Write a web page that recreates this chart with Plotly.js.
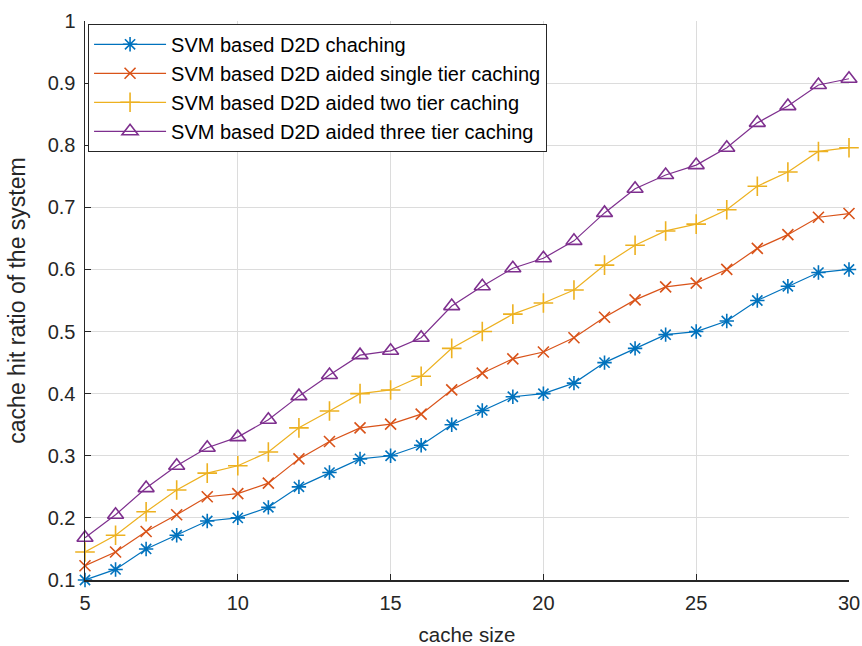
<!DOCTYPE html>
<html>
<head>
<meta charset="utf-8">
<script src="https://cdn.plot.ly/plotly-3.0.1.min.js"></script>
<style>html,body{margin:0;padding:0;background:#fff}#chart{width:862px;height:646px}</style>
</head>
<body>
<div id="chart"></div>
<script>
const cacheSize = [5,6,7,8,9,10,11,12,13,14,15,16,17,18,19,20,21,22,23,24,25,26,27,28,29,30];
const d2dCaching = [0.100,0.117,0.150,0.172,0.195,0.200,0.217,0.250,0.273,0.295,0.300,0.317,0.350,0.373,0.395,0.400,0.417,0.450,0.473,0.495,0.500,0.517,0.550,0.573,0.595,0.600];
const singleTier = [0.123,0.145,0.178,0.205,0.234,0.239,0.256,0.295,0.323,0.345,0.351,0.367,0.406,0.433,0.456,0.467,0.490,0.523,0.551,0.572,0.578,0.600,0.634,0.656,0.684,0.690];
const twoTier = [0.145,0.172,0.210,0.245,0.272,0.284,0.306,0.345,0.372,0.400,0.406,0.428,0.473,0.500,0.528,0.546,0.567,0.607,0.639,0.662,0.673,0.696,0.734,0.757,0.790,0.796];
const threeTier = [0.168,0.205,0.248,0.284,0.313,0.330,0.358,0.396,0.430,0.462,0.469,0.490,0.541,0.573,0.602,0.618,0.646,0.691,0.730,0.752,0.768,0.796,0.836,0.863,0.897,0.907];
const seriesNames = ["SVM based D2D chaching","SVM based D2D aided single tier caching","SVM based D2D aided two tier caching","SVM based D2D aided three tier caching"];
const xTicks = [5,10,15,20,25,30];
const yTicks = [0.1,0.2,0.3,0.4,0.5,0.6,0.7,0.8,0.9,1];
const yTickText = ["0.1","0.2","0.3","0.4","0.5","0.6","0.7","0.8","0.9","1"];

const colors = ["#0072BD","#D95319","#EDB120","#7E2F8E"];
const symbols = ["asterisk-open","x-thin-open","cross-thin-open","triangle-up-open"];
const sizes = [12,11,14,14];
const ys = [d2dCaching,singleTier,twoTier,threeTier];

const traces = ys.map((y,i)=>({
  x: cacheSize, y: y, name: seriesNames[i], type:'scatter', mode:'lines+markers',
  line:{color:colors[i], width:1.2},
  marker:{symbol:symbols[i], size:sizes[i], color:colors[i], line:{color:colors[i], width:1.6}},
  cliponaxis:false
}));

const layout = {
  width:862, height:646,
  margin:{l:85, r:13, t:21, b:66},
  paper_bgcolor:'#fff', plot_bgcolor:'#fff',
  font:{family:'Arial, Liberation Sans, sans-serif', color:'#262626', size:20},
  xaxis:{range:[5,30], tickvals:xTicks, ticks:'inside', ticklen:6, tickcolor:'#262626',
    showline:true, linecolor:'#262626', linewidth:1.5, showgrid:true, gridcolor:'#dcdcdc', gridwidth:1,
    zeroline:false, tickfont:{size:20}, mirror:false, ticklabelstandoff:4, automargin:false,
    title:{text:'cache size', font:{size:20.5}, standoff:16}},
  yaxis:{range:[0.1,1], tickvals:yTicks, ticktext:yTickText, ticks:'inside', ticklen:6, tickcolor:'#262626',
    showline:true, linecolor:'#262626', linewidth:1.5, showgrid:true, gridcolor:'#dcdcdc', gridwidth:1,
    zeroline:false, tickfont:{size:20}, ticklabelstandoff:4, automargin:false,
    title:{text:'cache hit ratio of the system', font:{size:23}, standoff:15}},
  legend:{x:0.004, y:0.995, xanchor:'left', yanchor:'top', bgcolor:'#fff', bordercolor:'#262626', borderwidth:1,
    font:{size:20, color:'#000'}, tracegroupgap:0, itemwidth:72},
  showlegend:true
};
Plotly.newPlot('chart', traces, layout, {displayModeBar:false, staticPlot:true});
</script>
</body>
</html>
